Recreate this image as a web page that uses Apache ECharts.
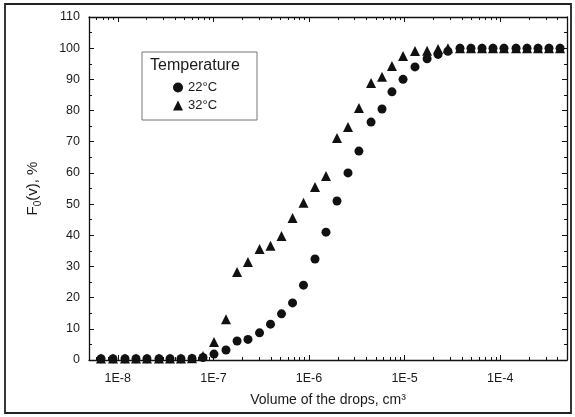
<!DOCTYPE html>
<html>
<head>
<meta charset="utf-8">
<script src="https://cdn.jsdelivr.net/npm/echarts@6/dist/echarts.min.js"></script>
<style>
html,body{margin:0;padding:0;background:#fff;}
#chart{width:575px;height:417px;}
</style>
</head>
<body>
<div id="chart"></div>
<script>
// Drop volumes (cm^3)
const volumes = [
  6.68e-9, 8.91e-9, 1.19e-8, 1.55e-8, 2.02e-8, 2.70e-8, 3.52e-8, 4.58e-8, 5.98e-8, 7.79e-8,
  1.015e-7, 1.355e-7, 1.77e-7, 2.30e-7, 3.04e-7, 3.96e-7, 5.16e-7, 6.73e-7, 8.76e-7, 1.156e-6,
  1.507e-6, 1.963e-6, 2.56e-6, 3.33e-6, 4.46e-6, 5.81e-6, 7.38e-6, 9.64e-6, 1.285e-5, 1.72e-5,
  2.24e-5, 2.84e-5, 3.80e-5, 4.95e-5, 6.46e-5, 8.41e-5, 1.096e-4, 1.466e-4, 1.91e-4, 2.49e-4,
  3.24e-4, 4.23e-4
];
// F0(v), % at 22 °C
const temp22 = [
  0.4, 0.4, 0.4, 0.4, 0.4, 0.4, 0.4, 0.4, 0.5, 0.8,
  1.9, 3.2, 6.1, 6.6, 8.7, 11.5, 14.8, 18.3, 24, 32.4,
  41, 51, 60, 67, 76.3, 80.5, 86, 90, 94, 96.6,
  98, 99, 100, 100, 100, 100, 100, 100, 100, 100,
  100, 100
];
// F0(v), % at 32 °C
const temp32 = [
  0.5, 0.5, 0.5, 0.5, 0.5, 0.5, 0.5, 0.5, 0.6, 1.3,
  5.8, 13.1, 28.2, 31.4, 35.6, 36.6, 39.8, 45.5, 50.4, 55.5,
  59, 71.2, 74.7, 80.8, 88.8, 90.8, 94.3, 97.5, 99.1, 99.2,
  99.7, 100, 100, 100, 100, 100, 100, 100, 100, 100,
  100, 100
];
const seriesNames = ['22°C', '32°C'];
const xMajorTicks = [1e-8, 1e-7, 1e-6, 1e-5, 1e-4];
const xMinorMultipliers = [2, 3, 4, 5, 6, 7, 8, 9];
const yTickLabels = ['0','10','20','30','40','50','60','70','80','90','100','110'];

const xMin = 5e-9, xMax = 5e-4;
const xMinorTicks = [];
[1e-9].concat(xMajorTicks).forEach(function (d) {
  xMinorMultipliers.forEach(function (m) {
    const v = d * m;
    if (v > xMin && v < xMax) xMinorTicks.push(v);
  });
});

const ink = '#111';
const txt = '#1a1a1a';
const font = 'Liberation Sans, Arial, sans-serif';

function xAxisDef(position, ticks, len, withLabels, showLine) {
  return {
    type: 'log', logBase: 10, min: xMin, max: xMax, position: position,
    axisLine: { show: showLine, lineStyle: { color: ink, width: 1.3 } },
    axisTick: { show: true, inside: true, length: len, customValues: ticks, lineStyle: { color: ink, width: 1 } },
    axisLabel: withLabels ? {
      show: true, customValues: ticks, margin: 12, color: txt, fontSize: 12.5, fontFamily: font,
      formatter: function (v) { return '1E' + Math.round(Math.log10(v)); }
    } : { show: false },
    splitLine: { show: false },
    minorTick: { show: false }
  };
}
function yAxisDef(position, withLabels) {
  return {
    type: 'value', min: 0, max: 110, interval: 10, position: position,
    axisLine: { show: true, lineStyle: { color: ink, width: 1.3 } },
    axisTick: { show: true, inside: true, length: 5, lineStyle: { color: ink, width: 1 } },
    minorTick: { show: true, splitNumber: 2, length: 3, lineStyle: { color: ink, width: 1 } },
    axisLabel: withLabels ? {
      show: true, margin: 9, color: txt, fontSize: 12.5, fontFamily: font,
      formatter: function (v) { return yTickLabels[Math.round(v / 10)]; }
    } : { show: false },
    splitLine: { show: false }
  };
}

const xBottom = xAxisDef('bottom', xMajorTicks, 5, true, true);
xBottom.name = 'Volume of the drops, cm³';
xBottom.nameLocation = 'middle';
xBottom.nameGap = 33;
xBottom.nameTextStyle = { color: txt, fontSize: 14, fontFamily: font };

const yLeft = yAxisDef('left', true);
yLeft.name = 'F{sub|0}(v), %';
yLeft.nameLocation = 'middle';
yLeft.nameGap = 46;
yLeft.nameTextStyle = {
  color: txt, fontSize: 15, fontFamily: font, lineHeight: 20,
  rich: { sub: { fontSize: 10, fontFamily: font, color: txt, verticalAlign: 'bottom', lineHeight: 20 } }
};

const chart = echarts.init(document.getElementById('chart'), null, { renderer: 'canvas' });
chart.setOption({
  backgroundColor: '#fff',
  animation: false,
  grid: { left: 89, right: 8, top: 17, bottom: 57, containLabel: false },
  xAxis: [
    xBottom,
    xAxisDef('bottom', xMinorTicks, 3, false, false),
    xAxisDef('top', xMajorTicks, 5, false, true),
    xAxisDef('top', xMinorTicks, 3, false, false)
  ],
  yAxis: [yLeft, yAxisDef('right', false)],
  legend: {
    data: seriesNames, orient: 'vertical', left: 168, top: 76, itemGap: 5,
    itemWidth: 10, itemHeight: 10,
    textStyle: { color: txt, fontSize: 13, fontFamily: font }
  },
  graphic: [
    { type: 'rect', shape: { x: 5, y: 4, width: 566, height: 409 }, style: { fill: null, stroke: '#222', lineWidth: 1.8 }, silent: true },
    { type: 'rect', shape: { x: 142, y: 52, width: 115, height: 68 }, style: { fill: '#fff', stroke: '#777', lineWidth: 1 }, z: 0, silent: true },
    { type: 'text', left: 150, top: 58, style: { text: 'Temperature', fill: txt, font: '16px ' + font }, z: 5, silent: true }
  ],
  series: [
    {
      name: seriesNames[0], type: 'scatter', symbol: 'circle', symbolSize: 9,
      xAxisIndex: 0, yAxisIndex: 0,
      itemStyle: { color: ink, opacity: 1 },
      data: volumes.map(function (v, i) { return [v, temp22[i]]; }),
      z: 3
    },
    {
      name: seriesNames[1], type: 'scatter', symbol: 'triangle', symbolSize: 10,
      xAxisIndex: 0, yAxisIndex: 0,
      itemStyle: { color: ink, opacity: 1 },
      data: volumes.map(function (v, i) { return [v, temp32[i]]; }),
      z: 2
    }
  ]
});
</script>
</body>
</html>
